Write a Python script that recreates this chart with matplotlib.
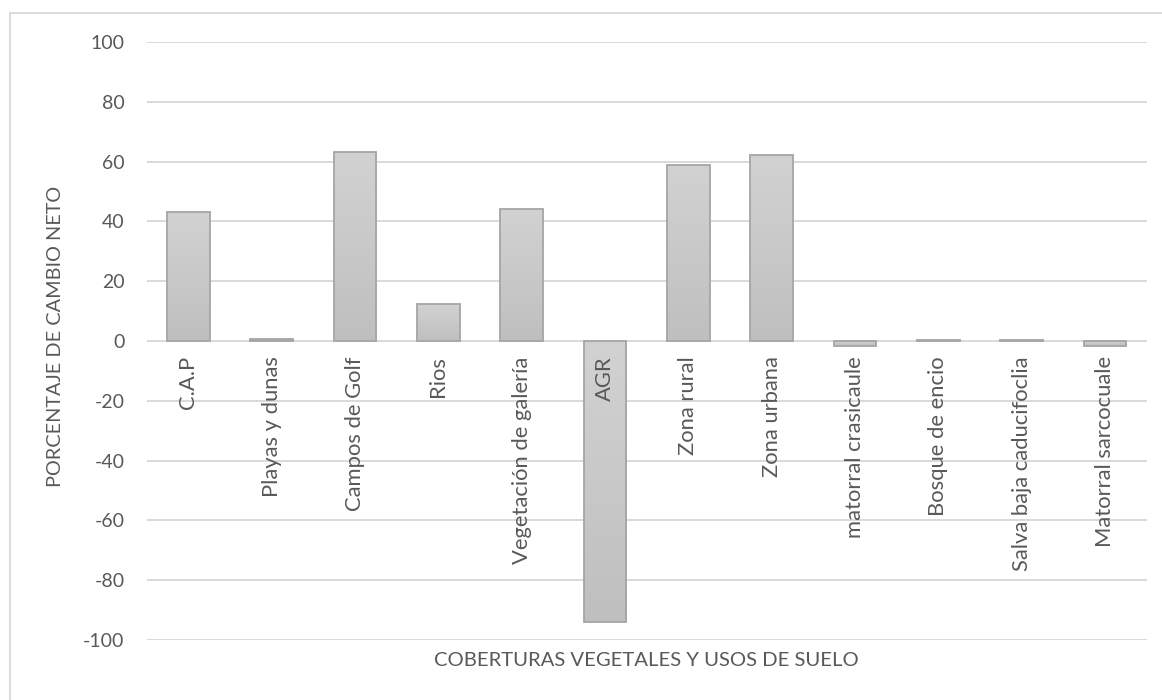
import numpy as np
import matplotlib
matplotlib.use("Agg")
import matplotlib.pyplot as plt
from matplotlib.lines import Line2D

categories = ["C.A.P", "Playas y dunas", "Campos de Golf", "Rios",
              "Vegetación de galería", "AGR", "Zona rural", "Zona urbana",
              "matorral crasicaule", "Bosque de encio", "Salva baja caducifoclia",
              "Matorral sarcocuale"]
values = [43, 0.8, 63.2, 12.3, 44, -94.1, 59, 62.2, -1.8, 0.5, 0.5, -1.7]
yticks = [-100, -80, -60, -40, -20, 0, 20, 40, 60, 80, 100]

plt.rcParams['font.family'] = ['Lato', 'DejaVu Sans']
text_color = "#595959"
grid_color = "#d9d9d9"

W, H = 1162, 700
fig = plt.figure(figsize=(W / 100, H / 100), dpi=100)
ax = fig.add_axes([146.7 / W, 1 - 640 / H, 1000 / W, 598 / H])

for s in ax.spines.values():
    s.set_visible(False)
ax.set_yticks(yticks)
ax.set_yticklabels([str(t) for t in yticks], fontsize=14, color=text_color)
ax.tick_params(axis="y", length=0, pad=16)
ax.set_xticks([])
for t in yticks:
    ax.axhline(t, color=grid_color, lw=1.4, zorder=0)

# vertical gradient used to fill each bar
grad = np.linspace(0, 1, 256).reshape(-1, 1)
cmap = matplotlib.colors.LinearSegmentedColormap.from_list("g", ["#bfbfbf", "#d2d2d2"])
bw = 0.512
x = np.arange(len(categories))
bars = ax.bar(x, values, width=bw, color="none", edgecolor="#a5a5a5", lw=1.3, zorder=3)
for b, v in zip(bars, values):
    x0 = b.get_x()
    lo, hi = min(0, v), max(0, v)
    im = ax.imshow(grad, extent=[x0, x0 + bw, lo, hi], origin="lower",
                   cmap=cmap, aspect="auto", zorder=2, interpolation="bicubic")
    im.set_clip_path(b)
ax.set_xlim(-0.5, len(categories) - 0.5)
ax.set_ylim(-100, 100)

# category names written downward from the zero line
for xi, name in zip(x, categories):
    ax.annotate(name, xy=(xi, 0), xytext=(0, -11), textcoords="offset points",
                rotation=90, ha="center", va="top", fontsize=15.8, color=text_color,
                zorder=4)

fig.text(56 / W, 1 - 336 / H, "PORCENTAJE DE CAMBIO NETO", rotation=90,
         ha="center", va="center", fontsize=14.3, color=text_color)
fig.text(646.7 / W, 1 - 661 / H, "COBERTURAS VEGETALES Y USOS DE SUELO",
         ha="center", va="center", fontsize=14.6, color=text_color)

# chart area frame
fig.add_artist(Line2D([9.5 / W, 9.5 / W], [1 - 12.5 / H, 0], color=grid_color,
                      lw=1.3, transform=fig.transFigure))
fig.add_artist(Line2D([9.5 / W, 1], [1 - 12.5 / H, 1 - 12.5 / H], color=grid_color,
                      lw=1.3, transform=fig.transFigure))

fig.savefig("out.png", dpi=100)
